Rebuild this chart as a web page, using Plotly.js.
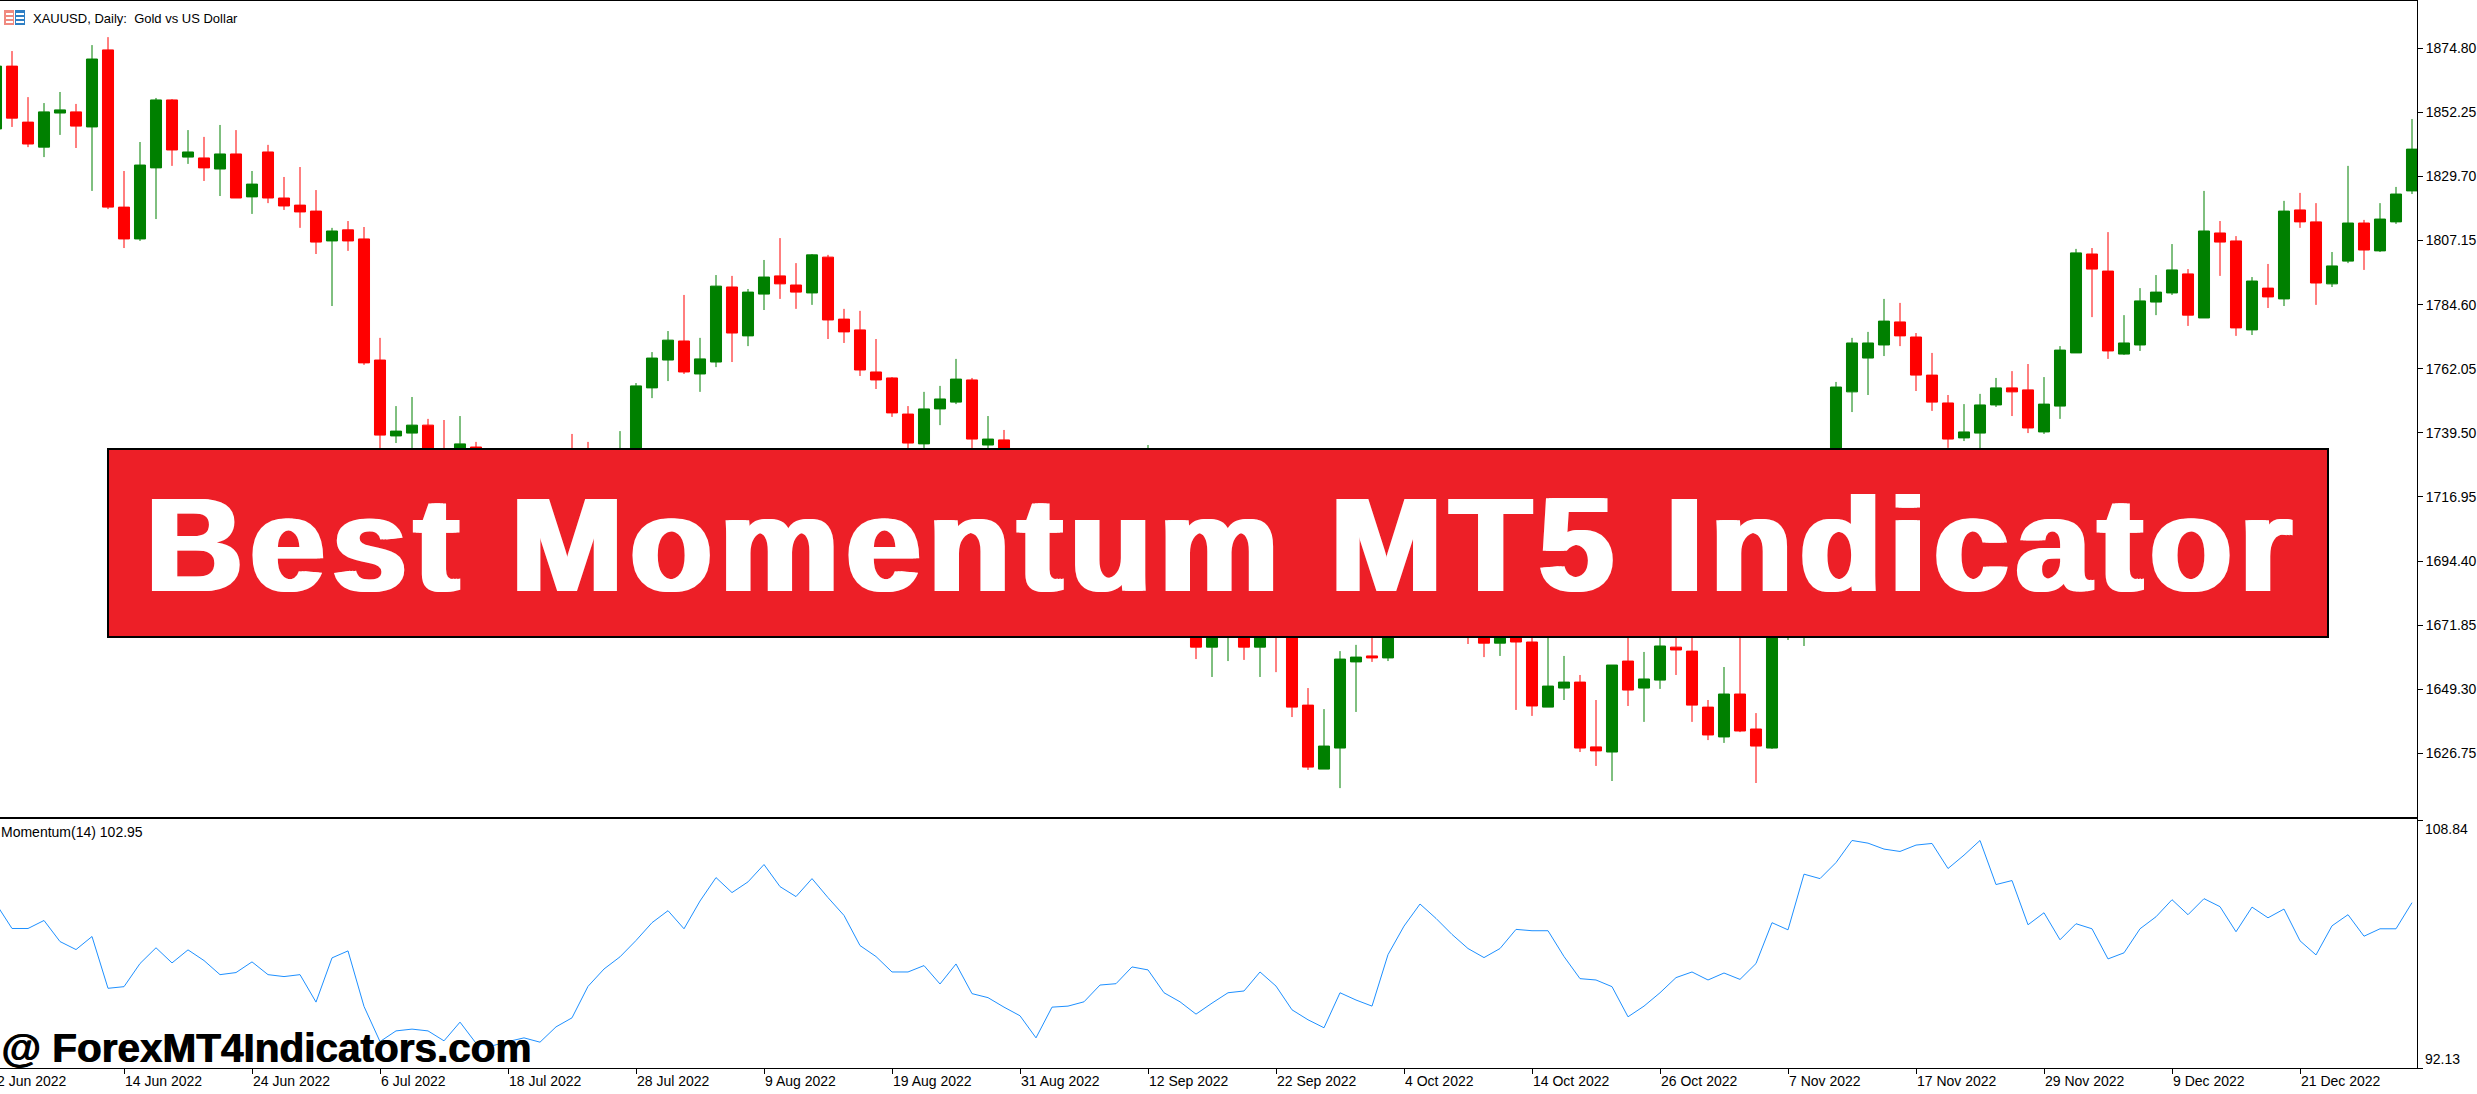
<!DOCTYPE html>
<html><head><meta charset="utf-8">
<script src="https://cdn.plot.ly/plotly-3.0.1.min.js"></script>
<style>html,body{margin:0;padding:0;background:#fff;overflow:hidden}#chart{width:2477px;height:1094px}</style>
</head><body><div id="chart"></div>
<script>
const opens = [1846.4,1868.5,1848.8,1840.0,1852.0,1852.4,1847.1,1874.2,1818.9,1807.7,
1832.7,1856.6,1836.5,1836.2,1832.3,1837.6,1822.5,1838.3,1822.1,1819.6,
1817.5,1807.0,1810.9,1807.7,1765.1,1738.4,1739.4,1742.2,1729.9,1728.2,
1734.5,1722.9,1726.4,1715.9,1705.3,1712.3,1729.9,1726.4,1717.6,1722.9,
1726.4,1755.3,1765.1,1771.8,1760.2,1764.4,1790.8,1773.6,1788.3,1794.7,
1791.5,1788.7,1801.3,1779.5,1775.7,1760.9,1758.8,1746.1,1735.6,1747.9,
1750.3,1758.1,1735.2,1737.0,1726.4,1712.3,1714.1,1722.9,1708.8,1715.9,
1717.6,1726.4,1715.9,1719.4,1701.8,1680.7,1664.1,1673.6,1684.2,1664.1,
1677.2,1673.6,1643.7,1621.2,1628.6,1658.9,1661.0,1660.3,1671.9,1684.2,
1694.8,1708.8,1694.8,1680.7,1665.5,1680.7,1665.9,1643.0,1649.7,1651.8,
1629.0,1627.2,1659.2,1649.7,1652.5,1664.1,1662.7,1643.0,1632.5,1647.6,
1635.3,1628.6,1670.1,1673.6,1684.2,1715.9,1753.9,1765.8,1770.4,1778.5,
1773.2,1759.8,1750.0,1737.7,1739.4,1749.3,1755.3,1754.6,1739.8,1748.9,
1767.6,1802.4,1796.4,1767.2,1770.4,1785.5,1788.7,1795.4,1779.9,1809.8,
1807.0,1775.7,1790.4,1786.6,1817.9,1813.7,1791.9,1799.9,1813.3,1803.5,1813.7,1824.6];
const highs = [1871.4,1873.8,1857.6,1855.5,1859.4,1855.2,1875.9,1878.7,1831.6,1841.8,
1857.3,1856.9,1846.0,1843.6,1847.8,1846.0,1831.6,1840.8,1829.5,1833.0,
1824.9,1811.6,1814.0,1811.9,1772.9,1748.9,1752.1,1744.4,1744.0,1745.4,
1736.3,1731.7,1732.7,1719.4,1719.4,1726.4,1739.1,1736.3,1729.9,1740.1,
1757.0,1767.9,1775.3,1788.0,1772.9,1795.0,1794.7,1790.1,1800.3,1808.0,
1799.2,1802.4,1802.1,1783.1,1782.4,1772.5,1759.1,1748.9,1753.9,1756.0,
1765.5,1758.8,1745.4,1740.5,1728.2,1722.9,1726.4,1726.4,1719.4,1726.4,
1731.7,1728.2,1735.2,1726.4,1712.3,1694.8,1687.7,1691.2,1691.2,1684.2,
1680.7,1677.2,1649.7,1642.3,1662.7,1664.9,1670.1,1680.7,1694.8,1708.8,
1715.9,1712.3,1701.8,1687.7,1684.2,1684.2,1673.6,1670.1,1661.0,1654.3,
1645.5,1657.8,1670.1,1662.4,1670.1,1671.9,1673.6,1645.5,1657.1,1677.2,
1640.9,1705.3,1694.8,1701.8,1708.8,1757.4,1772.9,1775.0,1786.6,1785.2,
1774.6,1767.6,1752.8,1749.6,1753.2,1758.8,1761.2,1763.7,1759.1,1770.0,
1804.2,1804.5,1810.1,1780.9,1790.4,1795.0,1805.9,1797.1,1824.6,1814.0,
1808.7,1794.3,1798.9,1821.1,1823.9,1820.3,1803.1,1833.4,1814.4,1820.3,1826.0,1849.9];
const lows = [1843.2,1847.1,1840.0,1836.5,1844.3,1839.7,1824.6,1818.2,1804.5,1807.0,
1814.7,1833.4,1834.1,1828.1,1822.8,1822.1,1816.5,1820.3,1817.9,1811.6,
1802.4,1784.1,1803.5,1763.4,1729.9,1735.9,1726.4,1722.9,1715.9,1722.9,
1719.4,1715.9,1708.8,1701.8,1700.0,1707.1,1710.6,1710.6,1712.3,1719.4,
1722.9,1751.7,1757.7,1760.2,1753.9,1762.6,1764.4,1770.0,1782.7,1786.6,
1783.1,1784.5,1772.5,1771.1,1759.5,1754.9,1745.1,1731.7,1729.9,1742.2,
1749.6,1731.7,1732.7,1721.1,1707.1,1708.8,1708.8,1705.3,1701.8,1708.8,
1712.3,1710.6,1708.8,1694.8,1673.6,1659.9,1653.6,1659.2,1659.6,1653.6,
1655.3,1639.5,1620.9,1621.2,1614.5,1641.3,1658.9,1659.2,1668.4,1677.2,
1687.7,1684.2,1665.2,1660.6,1661.0,1642.0,1639.9,1643.0,1645.5,1627.2,
1622.3,1617.0,1643.4,1637.8,1649.4,1654.3,1637.8,1631.4,1630.4,1634.2,
1616.3,1628.3,1666.6,1664.5,1673.6,1712.3,1746.8,1752.8,1766.5,1770.0,
1754.2,1747.2,1734.2,1736.6,1731.7,1748.6,1745.4,1739.4,1739.1,1744.4,
1767.6,1780.2,1765.5,1766.9,1768.3,1780.9,1788.0,1777.1,1779.9,1794.7,
1773.6,1773.9,1783.4,1784.1,1811.6,1784.5,1790.8,1799.2,1796.8,1803.1,1813.0,1823.5];
const closes = [1868.5,1850.2,1841.1,1852.4,1853.1,1847.4,1871.0,1818.9,1807.7,1833.7,
1856.6,1839.0,1838.3,1832.7,1837.6,1822.1,1827.0,1822.1,1819.3,1817.2,
1806.6,1810.5,1807.0,1764.1,1738.7,1740.1,1742.2,1726.4,1722.9,1735.6,
1724.7,1728.2,1712.3,1705.3,1714.1,1722.9,1715.9,1717.6,1726.4,1733.4,
1756.0,1765.8,1772.1,1760.9,1765.5,1791.1,1774.6,1789.0,1794.3,1791.9,
1789.0,1802.1,1779.2,1775.0,1761.6,1758.1,1746.5,1735.9,1747.9,1751.4,
1758.4,1737.3,1737.3,1726.4,1712.3,1719.4,1722.9,1708.8,1715.9,1722.9,
1726.4,1715.9,1726.4,1698.3,1677.2,1664.1,1677.2,1684.2,1664.1,1677.2,
1670.1,1643.0,1621.9,1629.3,1659.9,1660.6,1660.3,1673.6,1687.7,1701.8,
1708.8,1691.2,1673.6,1665.5,1677.2,1665.9,1643.4,1650.4,1651.8,1628.6,
1627.6,1657.8,1649.0,1652.9,1664.5,1663.1,1643.7,1633.2,1647.6,1634.6,
1629.3,1701.8,1684.2,1694.8,1705.3,1755.6,1771.1,1771.1,1778.8,1773.6,
1759.8,1750.3,1737.3,1739.8,1749.3,1755.3,1753.9,1741.2,1749.6,1768.6,
1802.8,1797.1,1768.3,1771.1,1785.9,1789.0,1796.8,1780.9,1810.5,1806.6,
1776.4,1792.9,1787.3,1817.5,1813.7,1792.2,1798.2,1813.3,1803.8,1814.7,1823.5,1839.3];
const momentum = [103.20,101.53,101.53,102.07,100.65,100.11,100.99,97.50,97.61,99.17,
100.23,99.21,100.09,99.37,98.42,98.56,99.28,98.42,98.29,98.42,
96.57,99.55,100.02,96.28,93.91,94.63,94.75,94.63,93.96,95.22,
93.80,93.62,93.91,94.16,93.87,94.90,95.51,97.63,98.80,99.62,
100.72,101.92,102.73,101.51,103.38,104.96,103.95,104.67,105.84,104.35,
103.68,104.89,103.61,102.41,100.38,99.64,98.60,98.60,99.03,97.79,
99.14,97.14,96.87,96.23,95.65,94.16,96.23,96.30,96.59,97.72,
97.81,98.94,98.74,97.20,96.59,95.76,96.50,97.20,97.32,98.60,
97.65,96.05,95.38,94.84,97.20,96.71,96.30,99.77,101.69,103.18,
102.21,101.13,100.18,99.57,100.18,101.47,101.38,101.38,99.64,98.15,
98.06,97.61,95.58,96.30,97.20,98.22,98.60,98.06,98.53,98.10,
99.17,101.92,101.44,105.19,104.89,105.97,107.46,107.28,106.88,106.72,
107.15,107.26,105.57,106.47,107.46,104.49,104.76,101.78,102.59,100.77,
101.85,101.51,99.48,99.89,101.51,102.32,103.47,102.46,103.54,103.00,
101.31,102.97,102.25,102.84,100.70,99.75,101.71,102.46,101.01,101.51,101.51,103.27];
const priceTicks = [1874.80,1852.25,1829.70,1807.15,1784.60,1762.05,1739.50,1716.95,1694.40,1671.85,1649.30,1626.75];
const momentumTicks = [108.84,92.13];
const dateTickIndex = [0,8,16,24,32,40,48,56,64,72,80,88,96,104,112,120,128,136,144];
const dateTickLabels = ['2 Jun 2022','14 Jun 2022','24 Jun 2022','6 Jul 2022','18 Jul 2022','28 Jul 2022','9 Aug 2022','19 Aug 2022','31 Aug 2022','12 Sep 2022','22 Sep 2022','4 Oct 2022','14 Oct 2022','26 Oct 2022','7 Nov 2022','17 Nov 2022','29 Nov 2022','9 Dec 2022','21 Dec 2022'];
const chartTitle = 'XAUUSD, Daily:  Gold vs US Dollar';
const indicatorTitle = 'Momentum(14) 102.95';
const bannerText = 'Best Momentum MT5 Indicator';
const watermarkText = '@ ForexMT4Indicators.com';

const W = 2477, H = 1094, plotW = 2417;
const px = x => x / plotW, py = y => 1 - y / H;
const barIndex = opens.map((_, i) => i);
const xRange = [0.25, 151.3125];
const UI = '"Liberation Sans", Arial, sans-serif';

const traces = [
  { type: 'candlestick', x: barIndex, open: opens, high: highs, low: lows, close: closes,
    xaxis: 'x', yaxis: 'y', whiskerwidth: 0, hoverinfo: 'skip', showlegend: false,
    increasing: { line: { color: '#008000', width: 1 }, fillcolor: '#008000' },
    decreasing: { line: { color: '#ff0000', width: 1 }, fillcolor: '#ff0000' } },
  { type: 'scatter', mode: 'lines', x: barIndex, y: momentum, xaxis: 'x2', yaxis: 'y2',
    line: { color: '#1e90ff', width: 1 }, hoverinfo: 'skip', showlegend: false }
];

const paperText = (text, x, y, size, extra) => Object.assign({
  text, xref: 'paper', yref: 'paper', x: px(x), y: py(y), xanchor: 'left', yanchor: 'middle',
  showarrow: false, align: 'left', borderpad: 0, font: { family: UI, size, color: '#000' }
}, extra || {});

const annotations = [
  paperText(chartTitle, 32, 18, 13),
  paperText(indicatorTitle, 0, 832, 14),
  paperText(watermarkText, 0, 1048, 40.5, { font: { family: UI, size: 40.5, color: '#000', weight: 700, shadow: '1px 0 0 #000' } }),
  { text: '<span style="letter-spacing:7.5px">' + bannerText + '</span>', xref: 'paper', yref: 'paper',
    x: px(1222), y: py(544), xanchor: 'center', yanchor: 'middle', showarrow: false, borderpad: 0,
    font: { family: UI, size: 134, color: '#fff', weight: 700, shadow: '3px 0 0 #fff, -3px 0 0 #fff' } },
  { text: String(momentumTicks[0].toFixed(2)), xref: 'paper', yref: 'y2', x: px(2424), y: momentumTicks[0],
    xanchor: 'left', yanchor: 'top', showarrow: false, borderpad: 0, font: { family: UI, size: 14, color: '#000' } },
  { text: String(momentumTicks[1].toFixed(2)), xref: 'paper', yref: 'y2', x: px(2424), y: momentumTicks[1],
    xanchor: 'left', yanchor: 'bottom', showarrow: false, borderpad: 0, font: { family: UI, size: 14, color: '#000' } }
].concat(dateTickIndex.map((k, i) => ({
  text: dateTickLabels[i], xref: 'x2', yref: 'paper', x: Math.max(k, xRange[0]),
  xshift: k < xRange[0] ? -4 : 0, y: py(1081), xanchor: 'left', yanchor: 'middle',
  showarrow: false, borderpad: 0, font: { family: UI, size: 14, color: '#000' }
})));

const pxRect = (x0, y0, x1, y1, fill, line) => ({
  type: 'rect', xref: 'paper', yref: 'paper', layer: 'above',
  x0: px(x0), x1: px(x1), y0: py(y0), y1: py(y1), fillcolor: fill,
  line: line || { width: 0 }
});

const shapes = [
  pxRect(108, 449, 2328, 637, '#ed1f27', { color: '#000', width: 2 }),
  pxRect(4, 10, 14, 25, '#f08a80'), pxRect(15, 10, 25, 25, '#2f7fc4'),
  pxRect(6, 13, 13, 15, '#ffffff'), pxRect(6, 17, 13, 19, '#ffffff'), pxRect(6, 21, 13, 23, '#ffffff'),
  pxRect(16, 13, 24, 15, '#ffffff'), pxRect(16, 17, 24, 19, '#ffffff'), pxRect(16, 21, 24, 23, '#ffffff')
];

const layout = {
  width: W, height: H, autosize: false, showlegend: false,
  paper_bgcolor: '#fff', plot_bgcolor: '#fff',
  margin: { l: 0, r: W - plotW, t: 0, b: 0, pad: 0 },
  boxgap: 0.31, boxgroupgap: 0, hovermode: false,
  xaxis: { domain: [0, 1], range: xRange, anchor: 'y', showgrid: false, zeroline: false,
    showline: true, mirror: true, linecolor: '#000', linewidth: 1, ticks: '', showticklabels: false,
    rangeslider: { visible: false } },
  yaxis: { domain: [py(817), py(1)], range: [1604.34, 1891.41], side: 'right', anchor: 'x', showgrid: false, zeroline: false,
    showline: true, linecolor: '#000', linewidth: 1, ticks: 'outside', ticklen: 5, tickcolor: '#000', tickwidth: 1,
    tickmode: 'array', tickvals: priceTicks, ticktext: priceTicks.map(v => v.toFixed(2)),
    tickfont: { family: UI, size: 14, color: '#000' } },
  xaxis2: { domain: [0, 1], range: xRange, anchor: 'y2', showgrid: false, zeroline: false,
    showline: true, mirror: true, linecolor: '#000', linewidth: 1, ticks: 'outside', ticklen: 5, tickcolor: '#000', tickwidth: 1,
    tickmode: 'array', tickvals: dateTickIndex, ticktext: dateTickLabels.map(() => ''), showticklabels: true },
  yaxis2: { domain: [py(1068), py(819)], range: [92.13, 108.84 + 1 * 16.71 / 248], side: 'right', anchor: 'x2', showgrid: false, zeroline: false,
    showline: true, linecolor: '#000', linewidth: 1, ticks: 'outside', ticklen: 5, tickcolor: '#000', tickwidth: 1,
    tickmode: 'array', tickvals: momentumTicks, showticklabels: false },
  annotations, shapes
};
Plotly.newPlot('chart', traces, layout, { staticPlot: true, displayModeBar: false });
</script></body></html>
